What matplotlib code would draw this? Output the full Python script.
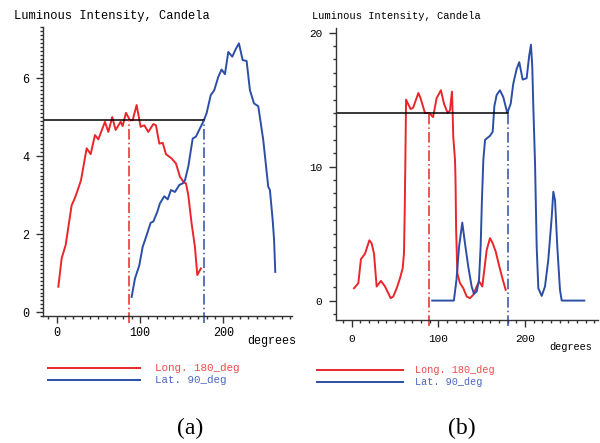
import matplotlib.pyplot as plt
from matplotlib.lines import Line2D
from matplotlib.ticker import MultipleLocator

plt.rcParams['font.family'] = ['Liberation Mono', 'DejaVu Sans Mono']

# panel (a)
long_a_deg = [2, 6, 10.8, 18, 20.8, 23.2, 29.2, 36, 40.8, 46, 50, 58, 62, 66.7, 70.8, 76.8, 79.2, 83.2, 88, 91.2,
              96, 100.8, 105.2, 110, 116, 119.2, 123.2, 127.3, 131.2, 138, 143.2, 148, 152.8, 155.2, 158, 162,
              166, 168.8, 170.8, 173.2]
long_a_val = [0.65, 1.38, 1.72, 2.74, 2.87, 3.0, 3.38, 4.2, 4.05, 4.54, 4.43, 4.88, 4.62, 5.0, 4.67, 4.88, 4.77,
              5.11, 4.92, 4.92, 5.31, 4.75, 4.79, 4.62, 4.82, 4.79, 4.32, 4.34, 4.05, 3.94, 3.81, 3.47, 3.32, 3.3,
              3.0, 2.27, 1.67, 0.95, 1.03, 1.12]
lat_a_deg = [90, 94, 99.2, 103.2, 108, 112.8, 116, 120.8, 124, 129.2, 133.3, 137.2, 142, 147.2, 151.3, 154, 158,
             163.3, 167.2, 172, 176.8, 180, 184.9, 189.2, 194, 198, 202, 206, 210.8, 214.9, 218.8, 223.3, 228,
             232, 236.9, 242, 248, 254, 256, 259.3, 261, 262.4]
lat_a_val = [0.39, 0.86, 1.2, 1.67, 1.97, 2.29, 2.32, 2.57, 2.79, 2.97, 2.89, 3.13, 3.08, 3.26, 3.3, 3.38, 3.73,
             4.45, 4.5, 4.71, 4.92, 5.1, 5.56, 5.69, 6.03, 6.22, 6.1, 6.67, 6.55, 6.74, 6.89, 6.46, 6.44, 5.69,
             5.35, 5.28, 4.41, 3.21, 3.13, 2.36, 1.85, 1.03]
level_a = 4.92
cut_a = [87, 177]

# panel (b)
long_b_deg = [2.7, 7.7, 10.7, 15.4, 20.4, 23, 25.8, 28.8, 33.8, 38.5, 45, 48, 52, 55.8, 58.9, 60.4, 61.2, 61.8,
              62.3, 62.8, 68, 71, 77, 79.6, 84.6, 89.6, 94, 98, 103, 106.6, 110.8, 113.5, 115.8, 116.6, 117.3,
              119.3, 119.9, 120.6, 122, 125, 128.9, 132.8, 136.6, 140.4, 144.3, 147.3, 150.8, 155.9, 159.7,
              162.8, 166.3, 170, 174, 177.8]
long_b_val = [0.92, 1.3, 3.1, 3.5, 4.5, 4.28, 3.5, 1.05, 1.47, 1.05, 0.18, 0.3, 0.92, 1.67, 2.42, 3.54, 6.52, 9.5,
              12.2, 15.0, 14.3, 14.4, 15.5, 15.1, 14.0, 14.0, 13.7, 15.1, 15.7, 14.7, 14.0, 14.2, 15.6, 14.0, 12.2,
              10.5, 9.0, 5.28, 2.04, 1.3, 0.92, 0.3, 0.18, 0.43, 1.05, 1.42, 1.05, 3.78, 4.66, 4.28, 3.66, 2.66,
              1.67, 0.8]
lat_b_deg = [93, 118, 121, 124, 127.7, 130.8, 134.6, 138.5, 141.2, 144.3, 147, 148.9, 150.3, 152, 154, 159.7,
             162.8, 164.7, 167.4, 171.2, 175, 179.7, 183.6, 186.6, 190.5, 193.5, 197.4, 202, 205, 207, 208.5,
             209.7, 211.7, 213.6, 215.5, 219.4, 223.2, 227, 231, 232.8, 234.8, 237.4, 240.5, 242.5, 268.6]
lat_b_val = [0, 0, 1.55, 4.03, 5.82, 4.28, 2.54, 1.05, 0.5, 0.67, 1.54, 4.03, 7.3, 10.5, 12.0, 12.3, 12.6, 14.5,
             15.35, 15.7, 15.2, 14.0, 14.7, 16.2, 17.3, 17.8, 16.5, 16.6, 18.3, 19.1, 17.5, 14.5, 10.25, 4.03,
             0.92, 0.35, 1.05, 3.04, 6.27, 8.13, 7.5, 4.03, 0.8, 0, 0]
level_b = 14.0
cut_b = [89, 180.5]

labels = ['Long. 180_deg', 'Lat. 90_deg']
RED = '#e8262b'
BLUE = '#2c4ea6'
RED_TXT = '#f04a4a'
BLUE_TXT = '#4a68c0'

W, H = 600, 443
fig = plt.figure(figsize=(W / 100, H / 100), dpi=100)


def px_axes(left, top, right, bottom):
    return fig.add_axes([left / W, 1 - bottom / H, (right - left) / W, (bottom - top) / H])


def panel(ax, long_deg, long_val, lat_deg, lat_val, level, cuts, xlim, ylim,
          ymajor, yminor, fs, below):
    ax.plot(long_deg, long_val, color=RED, lw=1.4)
    ax.plot(lat_deg, lat_val, color=BLUE, lw=1.4)
    ax.plot([xlim[0], cuts[1]], [level, level], color='black', lw=1.1)
    ax.plot([cuts[0], cuts[0]], [ylim[0] - below, level], color=RED, lw=1.1,
            ls=(0, (7, 2, 1, 2)), clip_on=False)
    ax.plot([cuts[1], cuts[1]], [ylim[0] - below, level], color=BLUE, lw=1.1,
            ls=(0, (7, 2, 1, 2)), clip_on=False)
    ax.set_xlim(*xlim)
    ax.set_ylim(*ylim)
    for s in ['top', 'right']:
        ax.spines[s].set_visible(False)
    for s in ['left', 'bottom']:
        ax.spines[s].set_color('#333333')
        ax.spines[s].set_linewidth(1.0)
    ax.xaxis.set_major_locator(MultipleLocator(100))
    ax.xaxis.set_minor_locator(MultipleLocator(10))
    ax.yaxis.set_major_locator(MultipleLocator(ymajor))
    ax.yaxis.set_minor_locator(MultipleLocator(yminor))
    ax.tick_params(which='major', length=5, width=1, color='#333333', labelsize=fs, pad=3)
    ax.tick_params(which='minor', length=2.5, width=1, color='#333333')
    ax.tick_params(axis='y', which='major', pad=5)


ax1 = px_axes(43, 27, 292, 316)
panel(ax1, long_a_deg, long_a_val, lat_a_deg, lat_a_val, level_a, cut_a,
      (-16.4, 282.5), (-0.1, 7.31), 2, 0.1, 8.5, 0.18)
ax2 = px_axes(336, 28, 598, 320)
panel(ax2, long_b_deg, long_b_val, lat_b_deg, lat_b_val, level_b, cut_b,
      (-18.1, 284.4), (-1.45, 20.35), 10, 1, 8, 0.45)
ax2.tick_params(axis='x', which='major', pad=5)

fig.text(14 / W, 1 - 16 / H, 'Luminous Intensity, Candela', fontsize=8.7, va='center', ha='left')
fig.text(312 / W, 1 - 16 / H, 'Luminous Intensity, Candela', fontsize=7.5, va='center', ha='left')
fig.text(272 / W, 1 - 341 / H, 'degrees', fontsize=8.5, va='center', ha='center')
fig.text(571 / W, 1 - 347 / H, 'degrees', fontsize=7.4, va='center', ha='center')

# legends under each panel
for (x0, x1, xt, y0, fs) in [(48, 140, 155, 368, 7.8), (317, 403, 415, 370, 7.3)]:
    for i, (col, tcol) in enumerate([(RED, RED_TXT), (BLUE, BLUE_TXT)]):
        yy = 1 - (y0 + 12 * i) / H
        fig.add_artist(Line2D([x0 / W, x1 / W], [yy, yy], color=col, lw=1.4))
        fig.text(xt / W, yy, labels[i], color=tcol, fontsize=fs, va='center', ha='left')

fig.text(190 / W, 1 - 428 / H, '(a)', fontsize=17, family='Liberation Serif', ha='center', va='center')
fig.text(462 / W, 1 - 428 / H, '(b)', fontsize=17, family='Liberation Serif', ha='center', va='center')

fig.savefig('out.png', dpi=100)
